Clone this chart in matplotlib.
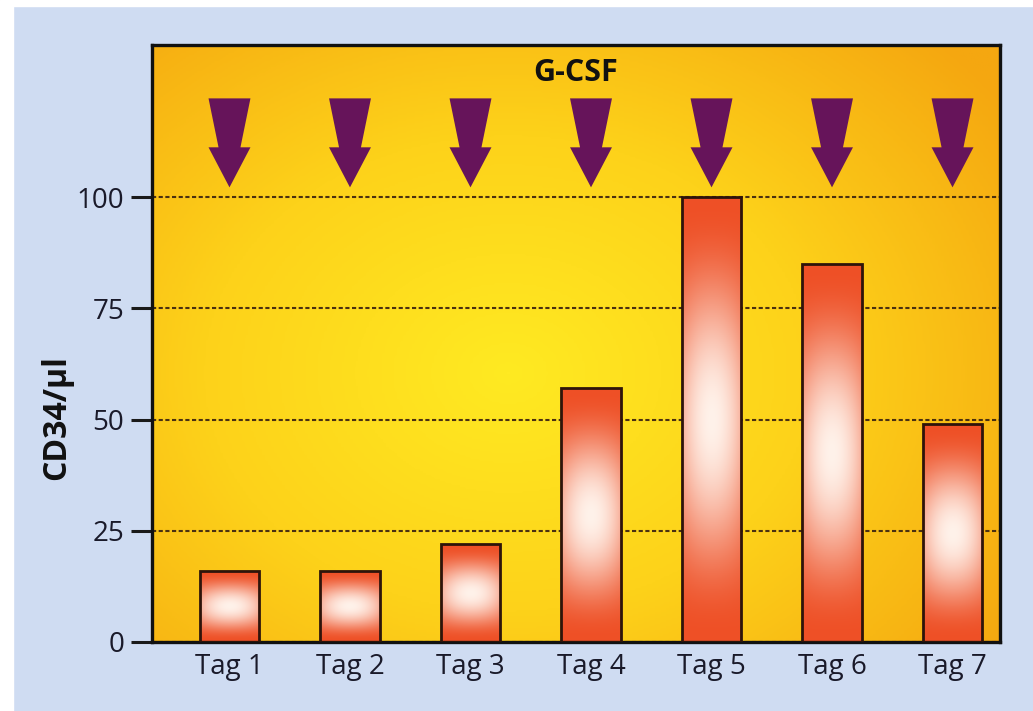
import numpy as np
import matplotlib.pyplot as plt
from matplotlib.patches import Polygon, Rectangle
from matplotlib.colors import LinearSegmentedColormap

# data
tage = ["Tag 1", "Tag 2", "Tag 3", "Tag 4", "Tag 5", "Tag 6", "Tag 7"]
cd34 = [16, 16, 22, 57, 100, 85, 49]
yticks = [0, 25, 50, 75, 100]

plt.rcParams['font.family'] = ['Open Sans', 'DejaVu Sans']

fig = plt.figure(figsize=(10.33, 7.11), dpi=100, facecolor='#cfdcf2')
# white scan border at top and left
fig.patches.append(Rectangle((0, 1 - 6 / 711), 1, 6 / 711, transform=fig.transFigure,
                             color='white', zorder=-5))
fig.patches.append(Rectangle((0, 0), 13 / 1033, 1, transform=fig.transFigure,
                             color='white', zorder=-5))

ax = fig.add_axes([152 / 1033, 69 / 711, 848 / 1033, 597 / 711])

# radial yellow -> orange background
gx, gy = np.meshgrid(np.linspace(0, 1, 300), np.linspace(0, 1, 300))
r = np.sqrt(((gx - 0.42) / 0.72) ** 2 + ((gy - 0.45) / 0.8) ** 2)
r = np.clip(r, 0, 1)
bg_cmap = LinearSegmentedColormap.from_list('bg', ['#ffea22', '#fdd21a', '#f5a710'])
ax.imshow(r, cmap=bg_cmap, extent=[0, 1, 0, 1], transform=ax.transAxes,
          aspect='auto', origin='lower', zorder=0, vmin=0, vmax=1)

ax.set_axisbelow(True)
ax.yaxis.grid(True, linestyle=(0, (2, 1.2)), color='#4a3010', lw=1.5)

x = np.arange(len(tage))
bars = ax.bar(x, cd34, width=0.49, facecolor='none', edgecolor='#2e140a',
              lw=2.0, zorder=3)

# bar fill: red edges, white centre
u, v = np.meshgrid(np.linspace(-1, 1, 80), np.linspace(-1, 1, 200))
w = np.clip(1 - v ** 2, 0, 1) ** 2.4 * (1 - 0.4 * np.abs(u) ** 2)
red = np.array([238, 80, 38]) / 255
white = np.array([255, 242, 234]) / 255
grad = red[None, None, :] * (1 - w[..., None]) + white[None, None, :] * w[..., None]
for b in bars:
    im = ax.imshow(grad, extent=[b.get_x(), b.get_x() + b.get_width(), 0, b.get_height()],
                   aspect='auto', origin='lower', zorder=2)
    im.set_clip_path(b)

# G-CSF arrows above every day
for xi in x:
    pts = [(xi - 0.174, 122.2), (xi + 0.174, 122.2), (xi + 0.091, 111.2),
           (xi + 0.174, 111.2), (xi, 102.2), (xi - 0.174, 111.2), (xi - 0.091, 111.2)]
    ax.add_patch(Polygon(pts, closed=True, facecolor='#66145a', edgecolor='none', zorder=4))

ax.text(0.5, 0.953, "G-CSF", transform=ax.transAxes, ha='center', va='center',
        fontsize=22, fontweight='bold', color='#111111')

ax.set_xlim(-0.643, 6.394)
ax.set_ylim(0, 134.2)
ax.set_xticks(x)
ax.set_xticklabels(tage)
ax.set_yticks(yticks)
ax.tick_params(axis='x', length=0, pad=8, labelsize=20, labelcolor='#1a1a2a')
ax.tick_params(axis='y', length=15, width=2.2, pad=5, labelsize=20,
               labelcolor='#1a1a2a', color='#1a1a1a')
for s in ax.spines.values():
    s.set_linewidth(2.4)
    s.set_color('#111111')

fig.text(57 / 1033, 1 - 418 / 711, "CD34/µl", rotation=90, ha='center', va='center',
         fontsize=23, fontweight='bold', color='#111111')

fig.savefig("out.png", dpi=100, facecolor=fig.get_facecolor())
